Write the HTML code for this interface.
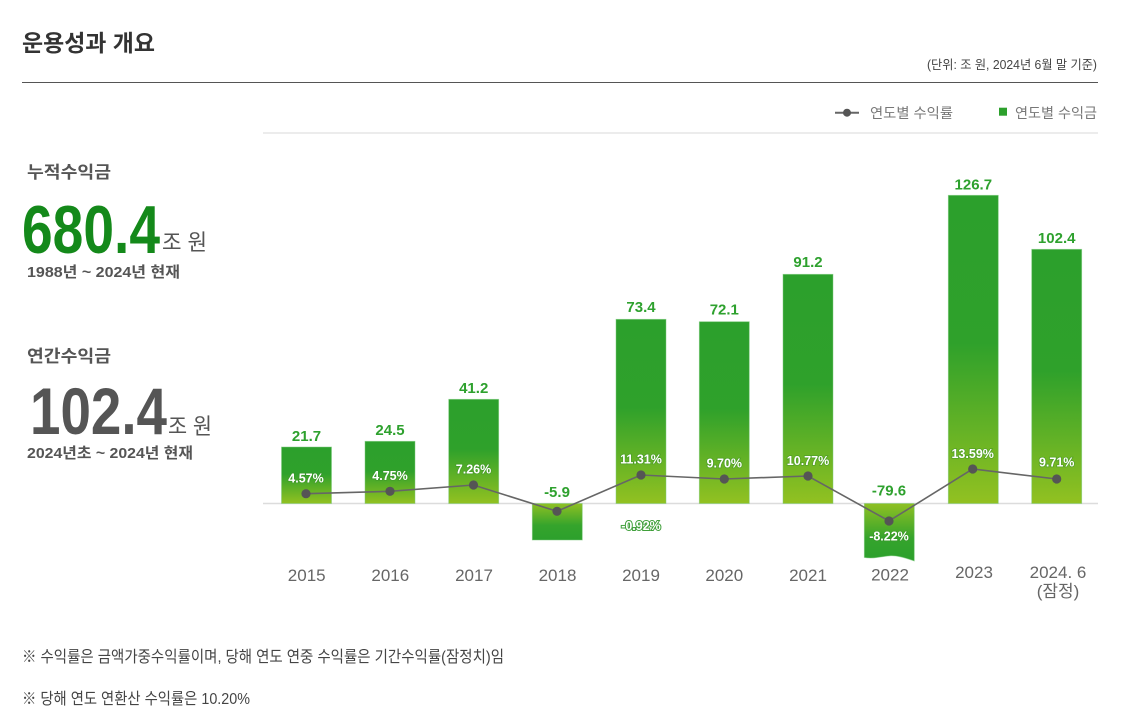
<!DOCTYPE html>
<html>
<head>
<meta charset="utf-8">
<style>
  html,body{margin:0;padding:0;background:#fff;}
  body{width:1133px;height:723px;overflow:hidden;}
  svg{display:block;font-family:"Liberation Sans","Noto Sans CJK KR",sans-serif;}
  .kr{font-family:"Liberation Sans","Noto Sans CJK KR",sans-serif;}
</style>
</head>
<body>
<svg width="1133" height="723" viewBox="0 0 1133 723" xmlns="http://www.w3.org/2000/svg">
  <defs>
    <linearGradient id="gp" x1="0" y1="0" x2="0" y2="1">
      <stop offset="0" stop-color="#2ca02c"/>
      <stop offset="0.48" stop-color="#2fa12b"/>
      <stop offset="1" stop-color="#92c121"/>
    </linearGradient>
    <linearGradient id="gn" x1="0" y1="0" x2="0" y2="1">
      <stop offset="0" stop-color="#8fc023"/>
      <stop offset="0.6" stop-color="#35a42c"/>
      <stop offset="1" stop-color="#2ca02c"/>
    </linearGradient>
  </defs>

  <!-- Header -->
  <text x="22" y="43" font-size="23" font-weight="bold" fill="#333" dominant-baseline="central" textLength="133" lengthAdjust="spacingAndGlyphs">운용성과 개요</text>
  <text x="1097" y="65" font-size="12.5" fill="#444" text-anchor="end" dominant-baseline="central" textLength="170" lengthAdjust="spacingAndGlyphs">(단위: 조 원, 2024년 6월 말 기준)</text>
  <line x1="22" y1="82.5" x2="1098" y2="82.5" stroke="#555" stroke-width="1"/>

  <!-- Legend -->
  <line x1="835" y1="112.7" x2="859" y2="112.7" stroke="#666" stroke-width="2"/>
  <circle cx="847" cy="112.7" r="4" fill="#555"/>
  <text x="870" y="113" font-size="14" fill="#777" dominant-baseline="central" textLength="83" lengthAdjust="spacingAndGlyphs">연도별 수익률</text>
  <rect x="999" y="107.7" width="8" height="8" fill="#2ca02c"/>
  <text x="1015" y="113" font-size="14" fill="#777" dominant-baseline="central" textLength="82" lengthAdjust="spacingAndGlyphs">연도별 수익금</text>
  <rect x="263" y="132" width="835" height="2" fill="#ececec"/>

  <!-- Left panel -->
  <text x="27" y="172.7" font-size="17" font-weight="bold" fill="#555" dominant-baseline="central" textLength="84" lengthAdjust="spacingAndGlyphs">누적수익금</text>
  <text x="22" y="253" font-size="68" font-weight="bold" fill="#14891a" textLength="138" lengthAdjust="spacingAndGlyphs">680.4</text>
  <text x="162" y="242.7" font-size="22" fill="#555" dominant-baseline="central" textLength="45" lengthAdjust="spacingAndGlyphs">조 원</text>
  <text x="27" y="272.7" font-size="15" font-weight="bold" fill="#555" dominant-baseline="central" textLength="153" lengthAdjust="spacingAndGlyphs">1988년 ~ 2024년 현재</text>

  <text x="27" y="356.7" font-size="17" font-weight="bold" fill="#555" dominant-baseline="central" textLength="84" lengthAdjust="spacingAndGlyphs">연간수익금</text>
  <text x="30" y="434" font-size="66" font-weight="bold" fill="#555" textLength="137" lengthAdjust="spacingAndGlyphs">102.4</text>
  <text x="168" y="426.7" font-size="22" fill="#555" dominant-baseline="central" textLength="44" lengthAdjust="spacingAndGlyphs">조 원</text>
  <text x="27" y="453.3" font-size="15" font-weight="bold" fill="#555" dominant-baseline="central" textLength="166" lengthAdjust="spacingAndGlyphs">2024년초 ~ 2024년 현재</text>

  <!-- Baseline -->
  <line x1="263" y1="503.5" x2="1098" y2="503.5" stroke="#dcdcdc" stroke-width="1.5"/>

  <!-- Bars -->
  <g stroke="#7fcc7f" stroke-width="0.8" stroke-opacity="0.6">
    <rect x="281.5" y="447" width="50" height="56.5" fill="url(#gp)"/>
    <rect x="365" y="441.3" width="50" height="62.2" fill="url(#gp)"/>
    <rect x="448.7" y="399.3" width="50" height="104.2" fill="url(#gp)"/>
    <rect x="532.3" y="503.5" width="50" height="36.5" fill="url(#gn)"/>
    <rect x="616" y="319.3" width="50" height="184.2" fill="url(#gp)"/>
    <rect x="699.3" y="321.7" width="50" height="181.8" fill="url(#gp)"/>
    <rect x="783" y="274.3" width="50" height="229.2" fill="url(#gp)"/>
    <path d="M864.3 503.5 H914.3 V561 C904 557.5 896 555 888 556 C880 557 872 559 864.3 557.5 Z" fill="url(#gn)"/>
    <rect x="948.3" y="195.3" width="50" height="308.2" fill="url(#gp)"/>
    <rect x="1031.7" y="249.3" width="50" height="254.2" fill="url(#gp)"/>
  </g>

  <!-- Value labels -->
  <g font-size="15" font-weight="bold" fill="#2ea12e" text-anchor="middle" dominant-baseline="central">
    <text x="306.5" y="436.5">21.7</text>
    <text x="390" y="430.5">24.5</text>
    <text x="473.7" y="388.5">41.2</text>
    <text x="557" y="492.7">-5.9</text>
    <text x="641" y="307.5">73.4</text>
    <text x="724.3" y="310">72.1</text>
    <text x="808" y="262.7">91.2</text>
    <text x="889" y="491">-79.6</text>
    <text x="973.3" y="185">126.7</text>
    <text x="1056.7" y="238.3">102.4</text>
  </g>

  <!-- Rate line -->
  <polyline points="306,493.7 390,491.3 473.5,485 557,511.3 641,475 724.3,479 808,476 889,521 972.7,469 1056.7,479" fill="none" stroke="#666" stroke-width="1.6"/>
  <g fill="#555">
    <circle cx="306" cy="493.7" r="4.6"/>
    <circle cx="390" cy="491.3" r="4.6"/>
    <circle cx="473.5" cy="485" r="4.6"/>
    <circle cx="557" cy="511.3" r="4.6"/>
    <circle cx="641" cy="475" r="4.6"/>
    <circle cx="724.3" cy="479" r="4.6"/>
    <circle cx="808" cy="476" r="4.6"/>
    <circle cx="889" cy="521" r="4.6"/>
    <circle cx="972.7" cy="469" r="4.6"/>
    <circle cx="1056.7" cy="479" r="4.6"/>
  </g>

  <!-- Rate labels -->
  <g font-size="12.5" font-weight="bold" fill="#fff" text-anchor="middle" dominant-baseline="central" stroke="#3d8f2a" stroke-width="1.6" stroke-opacity="0.55" paint-order="stroke">
    <text x="306" y="478.3">4.57%</text>
    <text x="390" y="476">4.75%</text>
    <text x="473.5" y="469.3">7.26%</text>
    <text x="641" y="459.3">11.31%</text>
    <text x="724.3" y="463.3">9.70%</text>
    <text x="808" y="461">10.77%</text>
    <text x="889" y="536.7">-8.22%</text>
    <text x="972.7" y="454">13.59%</text>
    <text x="1056.7" y="462.3">9.71%</text>
  </g>
  <text x="641" y="526" font-size="12.5" font-weight="bold" fill="#fff" text-anchor="middle" dominant-baseline="central" stroke="#3f9f3a" stroke-width="2" paint-order="stroke">-0.92%</text>

  <!-- Year labels -->
  <g font-size="17" fill="#666" text-anchor="middle" dominant-baseline="central">
    <text x="306.7" y="575.7">2015</text>
    <text x="390.3" y="575.7">2016</text>
    <text x="474" y="575.7">2017</text>
    <text x="557.5" y="575.7">2018</text>
    <text x="641" y="575.7">2019</text>
    <text x="724.3" y="575.7">2020</text>
    <text x="808" y="575.7">2021</text>
    <text x="890" y="575">2022</text>
    <text x="974" y="572.7">2023</text>
    <text x="1058" y="572.7">2024. 6</text>
    <text x="1058" y="591.7">(잠정)</text>
  </g>

  <!-- Footnotes -->
  <text x="22" y="657.3" font-size="16" fill="#444" dominant-baseline="central" textLength="482" lengthAdjust="spacingAndGlyphs">※ 수익률은 금액가중수익률이며, 당해 연도 연중 수익률은 기간수익률(잠정치)임</text>
  <text x="22" y="699.3" font-size="16" fill="#444" dominant-baseline="central" textLength="228" lengthAdjust="spacingAndGlyphs">※ 당해 연도 연환산 수익률은 10.20%</text>
</svg>
</body>
</html>
